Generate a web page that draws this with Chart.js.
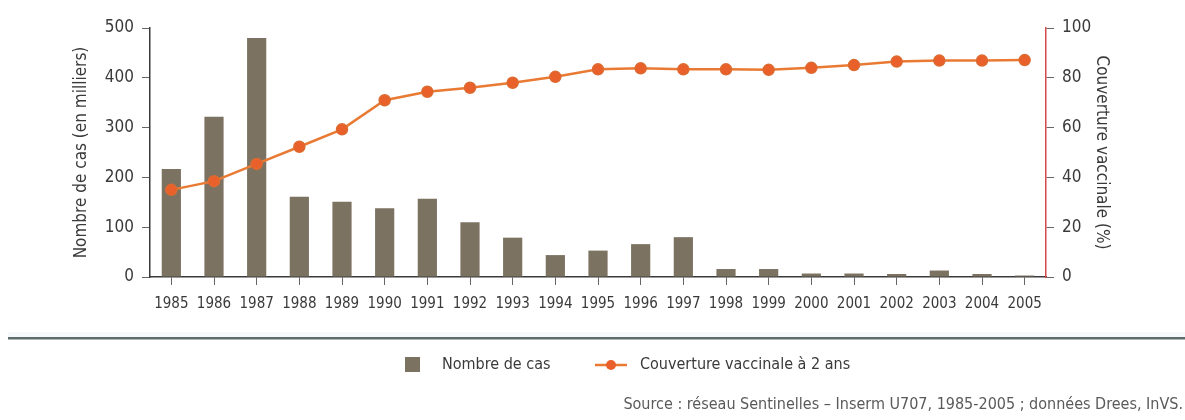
<!DOCTYPE html>
<html>
<head>
<meta charset="utf-8">
<script src="https://cdn.jsdelivr.net/npm/chart.js@4"></script>
<style>
  html, body { margin: 0; padding: 0; background: #fff; }
  #wrap { width: 1185px; height: 420px; }
</style>
</head>
<body>
<div id="wrap"><canvas id="myChart" width="1185" height="420"></canvas></div>
<script>

const years = ['1985', '1986', '1987', '1988', '1989', '1990', '1991', '1992', '1993', '1994', '1995',
    '1996', '1997', '1998', '1999', '2000', '2001', '2002', '2003', '2004', '2005'];

// nombre de cas, en milliers
const cases = [217, 322, 480, 161, 151, 138, 157, 110, 79, 44, 53, 66, 80, 16, 16, 7, 7, 6, 13, 6, 3];

// couverture vaccinale a 2 ans, en %
const coverage = [35, 38.5, 45.4, 52.3, 59.3, 71, 74.4, 76, 78, 80.4, 83.4, 83.8, 83.4, 83.4, 83.2,
    84, 85.1, 86.5, 86.9, 86.9, 87.1];

const casesLabel = 'Nombre de cas';
const coverageLabel = 'Couverture vaccinale à 2 ans';
const leftTitle = 'Nombre de cas (en milliers)';
const rightTitle = 'Couverture vaccinale (%)';
const sourceText = 'Source : réseau Sentinelles – Inserm U707, 1985-2005 ; données Drees, InVS.';

const FONT = "'Liberation Sans Narrow', 'DejaVu Sans Condensed', 'Arial Narrow', sans-serif";
const textColor = '#3a3a3a';
const barColor = '#7c7262';
const lineColor = '#e97a34';
const pointColor = '#e9602a';

// separateur, legende et source sous le graphique
const footer = {
    id: 'footer',
    afterDraw(chart) {
        const ctx = chart.ctx;
        ctx.save();

        ctx.fillStyle = '#f5f9f9';
        ctx.fillRect(8, 332, 1177, 5);
        ctx.fillStyle = '#5f6a6a';
        ctx.fillRect(8, 337, 1177, 2.5);

        ctx.font = '16px ' + FONT;
        ctx.textBaseline = 'middle';
        ctx.textAlign = 'left';

        const ds = chart.data.datasets;
        ctx.fillStyle = ds[0].backgroundColor;
        ctx.fillRect(405, 357, 15, 15);
        ctx.fillStyle = textColor;
        ctx.fillText(ds[0].label, 442, 365);

        ctx.strokeStyle = ds[1].borderColor;
        ctx.lineWidth = 2.5;
        ctx.beginPath();
        ctx.moveTo(595, 365);
        ctx.lineTo(627, 365);
        ctx.stroke();
        ctx.fillStyle = ds[1].pointBackgroundColor;
        ctx.beginPath();
        ctx.arc(611, 365, 5, 0, Math.PI * 2);
        ctx.fill();
        ctx.fillStyle = textColor;
        ctx.fillText(ds[1].label, 640, 365);

        ctx.font = '16px ' + FONT;
        ctx.fillStyle = '#5a5a5a';
        ctx.textAlign = 'right';
        ctx.fillText(sourceText, 1183, 405);

        ctx.restore();
    }
};

Chart.defaults.font.family = FONT;
Chart.defaults.color = textColor;

const config = {
    type: 'bar',
    data: {
        labels: years,
        datasets: [{
            label: casesLabel,
            data: cases,
            backgroundColor: barColor,
            categoryPercentage: 0.5,
            barPercentage: 0.9,
            yAxisID: 'y',
            order: 1
        }, {
            type: 'line',
            label: coverageLabel,
            data: coverage,
            borderColor: lineColor,
            borderWidth: 2.5,
            pointRadius: 5.5,
            pointBorderWidth: 1.5,
            pointBackgroundColor: pointColor,
            pointBorderColor: '#dd6a30',
            yAxisID: 'y2',
            order: 0
        }]
    },
    options: {
        responsive: false,
        animation: false,
        devicePixelRatio: 1,
        layout: { padding: { left: 0, right: 0, top: 28, bottom: 103 } },
        plugins: {
            legend: { display: false },
            tooltip: { enabled: false }
        },
        scales: {
            x: {
                offset: true,
                grid: { offset: false, drawOnChartArea: false, tickLength: 8, color: '#666' },
                border: { color: '#3a3a3a', width: 1.5 },
                ticks: { font: { size: 15 }, padding: 10, maxRotation: 0, autoSkip: false },
                afterFit(scale) { scale.height = 40; }
            },
            y: {
                position: 'left',
                min: 0,
                max: 500,
                ticks: { stepSize: 100, font: { size: 17 }, padding: 8 },
                grid: { drawOnChartArea: false, tickLength: 8, color: '#666' },
                border: { color: '#3a3a3a', width: 1.5 },
                title: { display: true, text: leftTitle, font: { size: 17 }, padding: { top: 71 } },
                afterFit(scale) { scale.width = 150; }
            },
            y2: {
                position: 'right',
                min: 0,
                max: 100,
                ticks: { stepSize: 20, font: { size: 17 }, padding: 8 },
                grid: { drawOnChartArea: false, tickLength: 8, color: '#666' },
                border: { color: '#d24a4a', width: 1.5 },
                title: { display: true, text: rightTitle, font: { size: 17 }, padding: { top: 73 } },
                afterFit(scale) { scale.width = 139; }
            }
        }
    },
    plugins: [footer]
};

const myChart = new Chart(document.getElementById('myChart'), config);

</script>
</body>
</html>
